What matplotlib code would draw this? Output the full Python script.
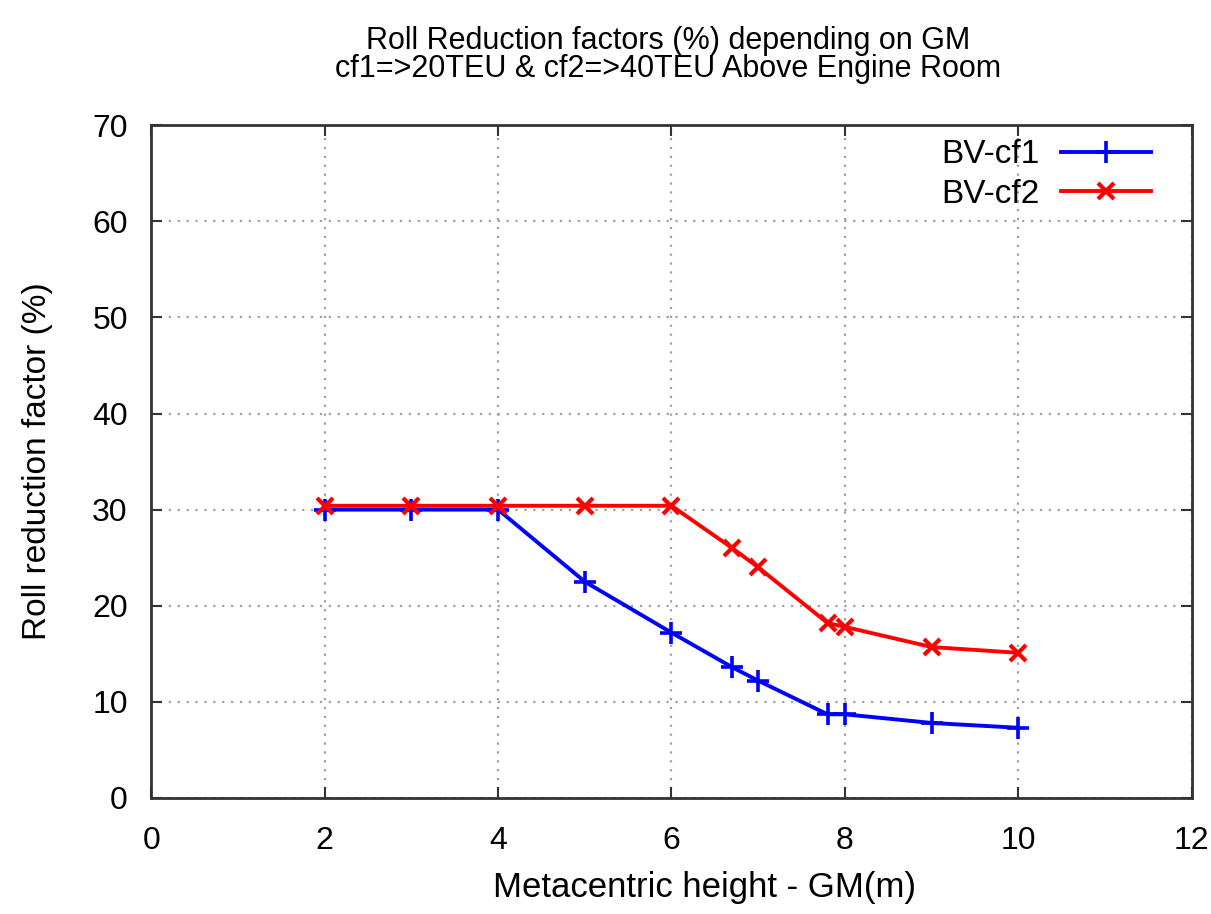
import matplotlib.pyplot as plt

plt.rcParams['font.family'] = ['Liberation Sans', 'DejaVu Sans']

# metacentric height GM (m) and roll reduction factor (%)
gm = [2, 3, 4, 5, 6, 6.7, 7, 7.8, 8, 9, 10]
bv_cf1 = [30.0, 30.0, 30.0, 22.5, 17.2, 13.6, 12.2, 8.7, 8.7, 7.8, 7.3]
bv_cf2 = [30.4, 30.4, 30.4, 30.4, 30.4, 26.0, 24.0, 18.2, 17.8, 15.7, 15.1]

fig = plt.figure(figsize=(12.11, 9.14), dpi=100)
ax = fig.add_axes([0.125, 0.127, 0.859, 0.736])

ax.plot(gm, bv_cf1, color='#0000ff', lw=2.8, marker='+', ms=16, mew=2.6,
        label='BV-cf1')
ax.plot(gm, bv_cf2, color='#ff0000', lw=2.8, marker='x', ms=12, mew=3,
        label='BV-cf2')

ax.set_xlim(0, 12)
ax.set_ylim(0, 70)
ax.set_xticks(range(0, 13, 2))
ax.set_yticks(range(0, 71, 10))
ax.grid(True, color='#a0a0a0', linestyle=(0, (1, 3)), lw=1.6)
ax.tick_params(direction='in', top=True, right=True, length=8, width=1.5,
               labelsize=23, color='#333333')
ax.tick_params(axis='x', pad=20)
ax.tick_params(axis='y', pad=17)
for s in ax.spines.values():
    s.set_linewidth(2)
    s.set_color('#333333')

ax.set_xlabel('Metacentric height - GM(m)', fontsize=25)
ax.xaxis.set_label_coords(0.532, -0.108)
ax.set_ylabel('Roll reduction factor (%)', fontsize=24)
ax.yaxis.set_label_coords(-0.095, 0.5)

fig.text(0.552, 0.955, 'Roll Reduction factors (%) depending on GM',
         ha='center', va='center', fontsize=22)
fig.text(0.552, 0.925, 'cf1=>20TEU & cf2=>40TEU Above Engine Room',
         ha='center', va='center', fontsize=22)

ax.legend(loc='upper right', bbox_to_anchor=(0.971, 0.994), frameon=False,
          markerfirst=False, fontsize=24, handlelength=2.7,
          handletextpad=0.65, borderaxespad=0, borderpad=0.3,
          labelspacing=0.25)

fig.savefig('out.png', dpi=100)
